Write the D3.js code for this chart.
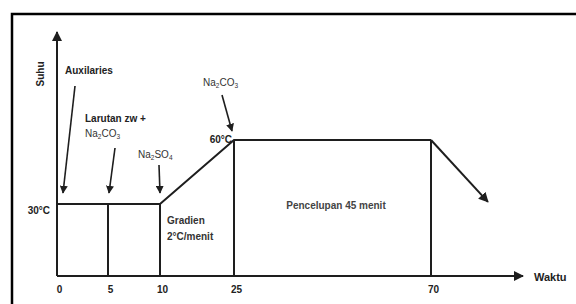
<!DOCTYPE html>
<html>
<head>
<meta charset="utf-8">
<script src="https://cdn.jsdelivr.net/npm/d3@7"></script>
<style>
  body { margin: 0; background: #fff; }
  svg text { font-family: "Liberation Sans", Arial, sans-serif; fill: #222; }
</style>
</head>
<body>
<div id="chart"></div>
<script>
// Process profile: temperature (°C) against time (menit)
const timeTicks = [0, 5, 10, 25, 70];
const profileTime = [0, 10, 25, 70];
const profileTemp = [30, 30, 60, 60];
const coolTime = [70, 83];
const coolTemp = [60, 31];
const stepTimes = [5, 10, 25, 70];
const tempLabels = [30];

const WIDTH = 576, HEIGHT = 304;

const svg = d3.select("#chart")
    .append("svg")
    .attr("width", WIDTH)
    .attr("height", HEIGHT);

// Time axis is drawn segment-wise, not to scale (as in the original sketch).
const xScale = d3.scaleLinear()
    .domain([0, 5, 10, 25, 70])
    .range([57, 108, 160, 234, 431]);

const yScale = d3.scaleLinear()
    .domain([0, 30, 60])
    .range([276, 204, 140]);

const INK = "#1e1e1e";

const defs = svg.append("defs");
defs.append("marker")
    .attr("id", "head")
    .attr("viewBox", "0 0 10 10")
    .attr("refX", 9).attr("refY", 5)
    .attr("markerWidth", 5).attr("markerHeight", 5)
    .attr("markerUnits", "strokeWidth")
    .attr("orient", "auto")
    .append("path")
    .attr("d", "M0,0 L10,5 L0,10 z")
    .attr("fill", INK);

// Outer frame (cut off on right and bottom)
svg.append("rect")
    .attr("x", 12).attr("y", 14)
    .attr("width", 700).attr("height", 400)
    .attr("fill", "none")
    .attr("stroke", "#000")
    .attr("stroke-width", 2.5);

// Axes with arrow heads
svg.append("line")
    .attr("x1", xScale(0)).attr("y1", yScale(0))
    .attr("x2", 523).attr("y2", yScale(0))
    .attr("stroke", INK).attr("stroke-width", 2)
    .attr("marker-end", "url(#head)");

svg.append("line")
    .attr("x1", xScale(0)).attr("y1", yScale(0))
    .attr("x2", xScale(0)).attr("y2", 32)
    .attr("stroke", INK).attr("stroke-width", 2)
    .attr("marker-end", "url(#head)");

// Tick labels
const xAxis = svg.append("g")
    .attr("transform", `translate(2,${yScale(0)})`)
    .call(d3.axisBottom(xScale).tickValues(timeTicks).tickSize(0).tickPadding(10));
xAxis.select(".domain").remove();
xAxis.selectAll("text")
    .attr("font-size", 10).attr("font-weight", "bold")
    .attr("font-family", "Liberation Sans, Arial, sans-serif")
    .attr("fill", "#333");

const yAxis = svg.append("g")
    .attr("transform", `translate(${xScale(0)},0)`)
    .call(d3.axisLeft(yScale).tickValues(tempLabels).tickSize(0).tickPadding(7)
        .tickFormat(d => `${d}\u00b0C`));
yAxis.select(".domain").remove();
yAxis.selectAll("text")
    .attr("dy", "0.9em")
    .attr("font-size", 10).attr("font-weight", "bold")
    .attr("font-family", "Liberation Sans, Arial, sans-serif")
    .attr("fill", "#222");

// Step verticals down to the time axis
svg.selectAll(".step")
    .data(stepTimes)
    .join("line")
    .attr("class", "step")
    .attr("x1", d => xScale(d)).attr("x2", d => xScale(d))
    .attr("y1", yScale(0))
    .attr("y2", d => yScale(d >= 25 ? 60 : 30))
    .attr("stroke", INK).attr("stroke-width", 2);

// Temperature profile
const profile = profileTime.map((t, i) => [t, profileTemp[i]]);
const line = d3.line()
    .x(d => xScale(d[0]))
    .y(d => yScale(d[1]));

svg.append("path")
    .attr("d", line(profile))
    .attr("fill", "none")
    .attr("stroke", INK)
    .attr("stroke-width", 2);

const cool = coolTime.map((t, i) => [t, coolTemp[i]]);
svg.append("path")
    .attr("d", line(cool))
    .attr("fill", "none")
    .attr("stroke", INK)
    .attr("stroke-width", 2)
    .attr("marker-end", "url(#head)");

// Annotation arrows pointing at the addition moments
const pointers = [
    { from: [75, 86], t: 0, temp: 30 },
    { from: [115, 148], t: 5, temp: 30 },
    { from: [159, 165], t: 10, temp: 30 },
    { from: [222, 95], t: 25, temp: 60 }
];
svg.selectAll(".pointer")
    .data(pointers)
    .join("line")
    .attr("class", "pointer")
    .attr("x1", d => d.from[0]).attr("y1", d => d.from[1])
    .attr("x2", d => xScale(d.t) + (d.t === 25 ? -2 : d.t === 0 ? 6 : d.t === 5 ? 1 : 0))
    .attr("y2", d => yScale(d.temp) - (d.t === 25 ? 9 : 11))
    .attr("stroke", INK).attr("stroke-width", 1.6)
    .attr("marker-end", "url(#head)");

// Text labels
const label = (x, y, txt, opts = {}) => {
    const t = svg.append("text")
        .attr("x", x).attr("y", y)
        .attr("font-size", opts.size || 10)
        .attr("font-weight", opts.weight || "bold")
        .attr("text-anchor", opts.anchor || "start");
    if (opts.fill) t.style("fill", opts.fill);
    if (opts.transform) t.attr("transform", opts.transform);
    if (Array.isArray(txt)) {
        txt.forEach(p => {
            t.append("tspan")
                .attr("font-size", p.sub ? 6.5 : null)
                .attr("dy", p.sub ? 2 : (p.up ? -2 : null))
                .text(p.s);
        });
    } else {
        t.text(txt);
    }
    return t;
};

const chem = (parts) => parts.map(p => typeof p === "string" ? { s: p } : p);

label(44, 74, "Suhu", { anchor: "middle", transform: "rotate(-90,44,74)" });
label(65, 74, "Auxilaries");
label(85, 122, "Larutan zw +");
label(85, 137, chem(["Na", { s: "2", sub: true }, { s: "CO", up: true }, { s: "3", sub: true }]), { weight: "normal", fill: "#333" });
label(138, 158, chem(["Na", { s: "2", sub: true }, { s: "SO", up: true }, { s: "4", sub: true }]), { weight: "normal", fill: "#333" });
label(203, 86, chem(["Na", { s: "2", sub: true }, { s: "CO", up: true }, { s: "3", sub: true }]), { weight: "normal", fill: "#333" });
label(232, 143, "60\u00b0C", { anchor: "end" });
label(167, 224, "Gradien", { fill: "#333" });
label(167, 240, "2\u00b0C/menit", { fill: "#333" });
label(336, 209, "Pencelupan 45 menit", { anchor: "middle", fill: "#444" });
label(534, 281, "Waktu", { size: 11 });
</script>
</body>
</html>
